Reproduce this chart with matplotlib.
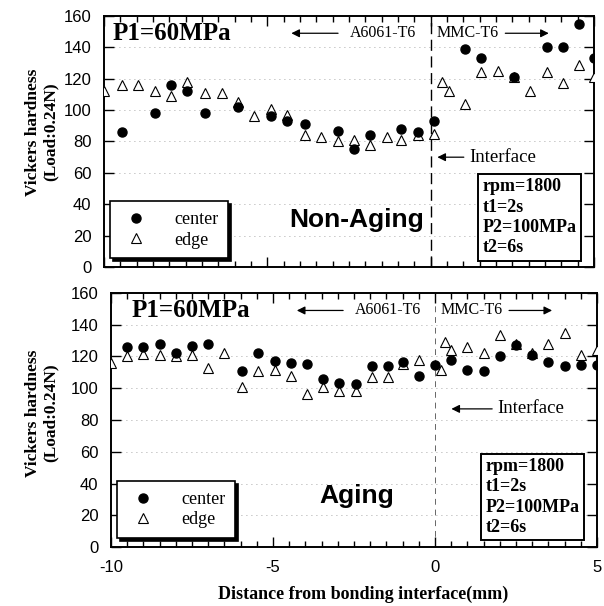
import matplotlib
matplotlib.use("Agg")
import matplotlib.pyplot as plt
from matplotlib.ticker import MultipleLocator

SERIF = "Liberation Serif"
SANS = "Liberation Sans"

# Non-Aging panel
na_center_x = [-9.45, -8.45, -7.95, -7.45, -6.9, -5.9, -4.9, -4.4, -3.85, -2.85, -2.35,
               -1.85, -0.9, -0.4, 0.1, 1.05, 1.55, 2.55, 3.55, 4.05, 4.55, 5.0]
na_center_y = [86, 98, 116, 112, 98, 102, 96, 93, 91, 87, 75,
               84, 88, 86, 93, 139, 133, 121, 140, 140, 155, 133]
na_edge_x = [-10.0, -9.45, -8.95, -8.45, -7.95, -7.45, -6.9, -6.4, -5.9, -5.4, -4.9, -4.4,
             -3.85, -3.35, -2.85, -2.35, -1.85, -1.35, -0.9, -0.4, 0.1, 0.35, 0.55, 1.05,
             1.55, 2.05, 2.55, 3.05, 3.55, 4.05, 4.55, 5.0]
na_edge_y = [112, 116, 116, 112, 109, 118, 111, 111, 105, 96, 101, 97,
             84, 83, 80, 81, 78, 83, 81, 84, 85, 118, 112, 104,
             124, 125, 121, 112, 124, 117, 129, 121]

# Aging panel
ag_center_x = [-9.5, -9.0, -8.5, -8.0, -7.5, -7.0, -5.95, -5.45, -4.95, -4.45, -3.95, -3.45,
               -2.95, -2.45, -1.95, -1.45, -1.0, -0.5, 0.0, 0.5, 1.0, 1.5, 2.0, 2.5, 3.0,
               3.5, 4.0, 4.5, 5.0]
ag_center_y = [126, 126, 128, 122, 126.5, 128, 111, 122, 117, 116, 115, 106,
               103.5, 102.5, 114, 114, 116.5, 108, 114.5, 117.5, 111.5, 111, 120, 127, 121,
               116.5, 114, 114.5, 114.5]
ag_edge_x = [-10.0, -9.5, -9.0, -8.5, -8.0, -7.5, -7.0, -6.5, -5.95, -5.45, -4.95, -4.45,
             -3.95, -3.45, -2.95, -2.45, -1.95, -1.45, -1.0, -0.5, 0.2, 0.3, 0.5, 1.0,
             1.5, 2.0, 2.5, 3.0, 3.5, 4.0, 4.5, 5.0]
ag_edge_y = [116, 120, 121.5, 121, 120, 121, 113, 122, 101, 111, 111.5, 108,
             96.5, 101, 98.5, 98, 107, 107, 115.5, 117.5, 111.5, 129, 124, 126,
             122.5, 133.5, 128, 122.5, 128, 134.5, 121, 124]

y_ticks = [0, 20, 40, 60, 80, 100, 120, 140, 160]
x_ticks = [-10, -5, 0, 5]
params_text = "rpm=1800\nt1=2s\nP2=100MPa\nt2=6s"

plt.rcParams["font.family"] = [SANS, "DejaVu Sans"]
plt.rcParams["axes.unicode_minus"] = False

fig = plt.figure(figsize=(6.04, 6.06), dpi=100)
ax_top = fig.add_axes([104 / 604, 1 - 267 / 606, (594 - 104) / 604, (267 - 16) / 606])
ax_bot = fig.add_axes([111 / 604, 1 - 547 / 606, (597 - 111) / 604, (547 - 293) / 606])


def setup_axes(ax, show_xlabels):
    ax.set_xlim(-10, 5)
    ax.set_ylim(0, 160)
    ax.set_xticks(x_ticks)
    ax.set_yticks(y_ticks)
    ax.xaxis.set_minor_locator(MultipleLocator(0.5))
    ax.tick_params(which="both", direction="in", top=True, right=True, width=1.0)
    ax.tick_params(which="major", length=7)
    ax.tick_params(which="minor", length=4)
    ax.tick_params(axis="y", labelsize=12, pad=9)
    ax.tick_params(axis="x", labelsize=12, pad=9)
    if not show_xlabels:
        ax.tick_params(axis="x", labelbottom=False)
    for s in ax.spines.values():
        s.set_linewidth(1.4)
    ax.grid(axis="y", ls=(0, (1, 5)), color="0.55", lw=0.6)
    ax.set_axisbelow(True)


def draw_panel(ax, cx, cy, ex, ey, name, name_pos, p1_x, iface, iface_style, box_x):
    ax.plot(ex, ey, ls="none", marker="^", ms=6.5, mfc="white", mec="black", mew=0.8,
            label="edge", zorder=3)
    ax.plot(cx, cy, ls="none", marker="o", ms=6.5, color="black", label="center", zorder=4)
    ax.axvline(0, color="black", **iface_style, zorder=2)

    ax.text(p1_x, 149, "P1=60MPa", family=SERIF, weight="bold", fontsize=18,
            ha="left", va="center")
    ax.annotate("", xy=(-4.35, 149), xytext=(-2.75, 149),
                arrowprops=dict(arrowstyle="-|>", color="black", lw=0.9, mutation_scale=12))
    ax.text(-2.48, 149, "A6061-T6", family=SERIF, fontsize=11.5, ha="left", va="center")
    ax.text(0.18, 149, "MMC-T6", family=SERIF, fontsize=11.5, ha="left", va="center")
    ax.annotate("", xy=(3.7, 149), xytext=(2.2, 149),
                arrowprops=dict(arrowstyle="-|>", color="black", lw=0.9, mutation_scale=12))

    ix0, ix1, iy = iface
    ax.annotate("", xy=(ix0, iy), xytext=(ix1, iy),
                arrowprops=dict(arrowstyle="-|>", color="black", lw=0.9, mutation_scale=12))
    ax.text(ix1 + 0.08, iy, "Interface", family=SERIF, fontsize=13.5, ha="left", va="center")

    ax.text(name_pos[0], name_pos[1], name, family=SANS, weight="bold", fontsize=19,
            ha="left", va="center")

    ax.text(box_x, 7.0, params_text, family=SERIF, weight="bold", fontsize=13,
            ha="left", va="bottom", linespacing=1.25,
            bbox=dict(boxstyle="square,pad=0.25", fc="white", ec="black", lw=1.4), zorder=5)

    handles, labels = ax.get_legend_handles_labels()
    leg = ax.legend(handles[::-1], labels[::-1], loc="lower left",
                    bbox_to_anchor=(0.012, 0.034), borderaxespad=0,
                    prop=dict(family=SERIF, size=13), frameon=True, fancybox=False,
                    edgecolor="black", framealpha=1, borderpad=0.55, handletextpad=1.2,
                    labelspacing=0.2, handlelength=1.8,
                    shadow=dict(color="black", alpha=1.0))
    leg.get_frame().set_linewidth(1.2)
    leg.set_zorder(6)


setup_axes(ax_top, False)
setup_axes(ax_bot, True)

draw_panel(ax_top, na_center_x, na_center_y, na_edge_x, na_edge_y, "Non-Aging", (-4.32, 30),
           -9.73, (0.12, 1.1, 70), dict(ls=(0, (8, 4)), lw=1.0), 1.58)
draw_panel(ax_bot, ag_center_x, ag_center_y, ag_edge_x, ag_edge_y, "Aging", (-3.57, 32),
           -9.35, (0.42, 1.85, 87), dict(ls=(0, (6, 5)), lw=0.7, alpha=0.6), 1.55)

for ax_y in (1 - 132 / 606, 1 - 413 / 606):
    fig.text(33 / 604, ax_y, "Vickers hardness", family=SERIF, weight="bold", fontsize=12.5,
             rotation=90, ha="center", va="center")
    fig.text(51 / 604, ax_y, "(Load:0.24N)", family=SERIF, weight="bold", fontsize=12.5,
             rotation=90, ha="center", va="center")

fig.text(363 / 604, 1 - 594 / 606, "Distance from bonding interface(mm)", family=SERIF,
         weight="bold", fontsize=13, ha="center", va="center")

fig.savefig("out.png", dpi=100)
